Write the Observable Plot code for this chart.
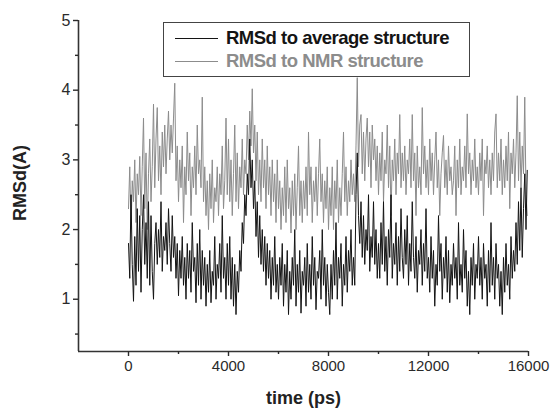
<!DOCTYPE html>
<html>
<head>
<meta charset="utf-8">
<script src="https://cdn.jsdelivr.net/npm/d3@7"></script>
<script src="https://cdn.jsdelivr.net/npm/@observablehq/plot@0.6"></script>
<style>
  html, body { margin: 0; padding: 0; background: #fff; }
  #wrap { position: relative; width: 553px; height: 408px; font-family: "Liberation Sans", Arial, sans-serif; }
  #legend { position: absolute; left: 163px; top: 22px; width: 305px; height: 53px; border: 1.5px solid #444; background: #fff; }
  .item { position: absolute; left: 11px; display: flex; align-items: center; font-size: 18.5px; font-weight: bold; letter-spacing: -0.5px; white-space: nowrap; line-height: 20px; }
  .swatch { width: 43px; height: 0; border-top: 1.3px solid; margin-right: 8px; }
</style>
</head>
<body>
<div id="wrap"></div>
<script>
// trajectory sampling (ps): one sample every 50 ps
const timeStep = 50;
const timeStart = 0;

// RMSd to NMR structure (gray)
const rmsdNMR = [
  2.3, 2.9, 2.0, 2.7, 2.4, 3.0, 2.1, 2.8, 2.5, 3.05, 2.2, 2.9, 3.6, 2.3, 3.1, 2.0, 2.8, 3.3, 2.4, 2.9,
  3.8, 2.6, 3.3, 3.75, 2.7, 3.2, 2.5, 3.4, 2.9, 3.5, 2.8, 3.3, 3.7, 3.0, 3.5, 3.1, 3.6, 4.1, 2.7, 3.2,
  2.4, 3.0, 2.6, 3.2, 2.1, 2.9, 2.5, 3.4, 2.7, 3.1, 2.2, 2.9, 2.6, 3.2, 2.5, 3.5, 2.8, 3.0, 2.6, 3.9,
  2.4, 2.9, 2.2, 2.7, 2.0, 2.8, 2.3, 3.0, 2.1, 2.6, 2.4, 2.9, 2.2, 2.8, 2.5, 3.2, 2.3, 2.7, 3.6, 2.5,
  3.3, 2.4, 3.0, 2.2, 2.8, 3.5, 2.4, 3.1, 2.3, 2.9, 2.6, 3.3, 2.5, 3.0, 2.8, 3.5, 3.0, 3.7, 3.2, 4.02,
  3.1, 3.5, 2.7, 3.4, 2.5, 3.0, 2.4, 3.3, 2.6, 3.0, 2.3, 3.2, 2.5, 2.9, 2.2, 3.0, 2.4, 2.8, 2.1, 3.0,
  2.3, 2.7, 2.0, 2.6, 2.2, 2.9, 2.1, 3.0, 2.3, 2.6, 1.95, 2.7, 2.2, 2.8, 2.0, 2.6, 3.2, 2.2, 2.7, 2.1,
  2.7, 2.3, 2.9, 2.2, 3.4, 2.5, 2.9, 2.1, 2.7, 2.4, 2.9, 2.2, 2.8, 3.3, 2.4, 2.8, 2.1, 2.7, 2.3, 2.9,
  2.0, 2.6, 2.2, 2.9, 2.0, 2.7, 2.3, 3.0, 2.1, 2.6, 2.2, 2.8, 3.4, 2.4, 2.9, 2.2, 2.7, 2.4, 3.0, 2.5,
  2.8, 2.4, 3.2, 4.18, 2.9, 3.5, 3.65, 2.8, 3.4, 2.7, 3.3, 3.6, 2.9, 3.4, 2.6, 3.5, 3.0, 3.3, 2.7, 3.2,
  2.5, 3.1, 2.7, 3.4, 2.4, 3.0, 2.8, 3.5, 2.6, 3.2, 2.2, 3.0, 2.7, 3.3, 2.5, 3.1, 2.8, 3.65, 2.6, 3.1,
  2.7, 3.2, 2.5, 3.0, 2.8, 3.3, 2.6, 3.65, 2.7, 3.1, 2.2, 3.2, 2.6, 2.9, 2.5, 3.75, 2.8, 3.2, 2.6, 3.0,
  2.5, 3.3, 2.7, 3.1, 2.5, 3.0, 3.4, 2.6, 3.0, 2.2, 2.8, 3.1, 3.35, 2.6, 3.0, 2.5, 3.2, 2.7, 2.9, 2.5,
  2.7, 3.2, 2.2, 3.0, 2.6, 3.3, 2.5, 2.9, 2.7, 3.2, 2.6, 3.66, 2.8, 3.1, 2.5, 3.0, 2.7, 3.3, 2.6, 2.9,
  2.5, 3.1, 2.7, 3.3, 2.2, 3.0, 2.8, 3.2, 2.6, 3.0, 2.5, 3.1, 2.7, 3.4, 3.66, 2.6, 3.1, 2.7, 3.3, 2.5,
  3.0, 2.6, 3.2, 2.7, 3.4, 2.3, 3.1, 2.8, 3.3, 2.6, 3.1, 3.92, 2.7, 3.4, 2.6, 3.2, 2.8, 3.9, 2.5, 2.2
];

// RMSd to average structure (black)
const rmsdAvg = [
  1.8, 1.3, 2.5, 1.5, 0.97, 1.9, 1.2, 2.3, 1.4, 2.2, 1.1, 2.0, 2.5, 1.5, 2.1, 1.3, 2.4, 1.2, 2.2, 1.4,
  1.0, 1.8, 2.1, 1.5, 2.0, 1.6, 2.4, 1.4, 1.9, 1.7, 2.1, 1.5, 2.3, 1.8, 1.4, 2.2, 1.6, 1.9, 1.3, 1.8,
  1.05, 1.7, 1.3, 1.9, 1.2, 1.6, 1.0, 1.8, 1.3, 1.7, 1.1, 2.1, 1.4, 1.6, 0.95, 1.8, 1.2, 2.0, 1.0, 1.7,
  1.2, 1.6, 0.9, 1.5, 1.1, 1.7, 0.95, 1.4, 1.2, 1.9, 1.0, 1.5, 1.3, 1.8, 1.1, 2.2, 1.3, 1.6, 1.0, 1.8,
  1.2, 1.9, 1.0, 1.6, 0.9, 1.5, 0.78, 1.4, 1.1, 1.7, 1.4, 2.1, 1.8, 2.5, 2.2, 2.8, 2.5, 3.3, 2.6, 3.0,
  2.3, 2.7, 1.9, 2.4, 1.6, 2.2, 1.5, 2.0, 1.4, 1.9, 1.2, 1.8, 1.3, 1.7, 1.0, 1.6, 1.2, 1.9, 1.1, 1.5,
  1.0, 1.6, 1.2, 1.8, 0.9, 1.5, 1.1, 1.7, 0.78, 1.4, 1.0, 1.6, 1.2, 2.0, 0.9, 1.5, 1.1, 1.7, 0.8, 1.4,
  1.2, 1.6, 0.9, 1.8, 1.1, 1.5, 1.0, 1.9, 1.2, 1.6, 0.85, 1.4, 1.3, 1.7, 1.0, 2.0, 1.2, 1.6, 0.9, 1.5,
  1.1, 0.78, 1.5, 1.0, 1.7, 1.2, 2.1, 1.0, 1.6, 1.3, 1.8, 0.9, 1.5, 1.2, 1.9, 1.1, 1.7, 1.4, 2.0, 1.2,
  1.6, 1.2, 2.5, 3.1, 2.2, 1.8, 2.4, 1.6, 2.2, 1.5, 2.0, 1.7, 2.5, 1.4, 1.9, 1.6, 2.4, 1.5, 2.0, 1.3,
  1.8, 1.3, 2.1, 1.5, 2.4, 1.4, 1.9, 1.2, 2.0, 1.6, 2.5, 1.3, 1.8, 1.5, 2.1, 1.2, 1.9, 1.4, 2.3, 1.6,
  1.3, 2.0, 1.5, 2.2, 1.2, 1.8, 1.4, 2.4, 1.6, 1.3, 1.9, 1.1, 1.7, 1.5, 2.0, 1.2, 1.8, 1.4, 2.3, 1.3,
  1.6, 1.1, 1.9, 1.3, 1.7, 0.9, 1.5, 1.2, 2.2, 1.4, 1.8, 1.0, 1.6, 1.3, 1.9, 1.1, 1.7, 0.95, 1.5, 1.2,
  1.8, 1.3, 1.6, 1.0, 2.1, 1.2, 1.5, 1.1, 2.0, 1.3, 1.7, 0.9, 1.4, 0.78, 1.6, 1.2, 1.8, 1.0, 1.5, 1.3,
  1.9, 1.2, 1.6, 1.0, 1.8, 1.3, 1.5, 0.9, 1.7, 1.1, 2.1, 1.2, 1.6, 1.0, 1.8, 1.3, 1.5, 0.9, 1.4, 0.78,
  1.6, 1.1, 1.8, 1.2, 1.5, 1.0, 1.9, 1.3, 1.7, 1.4, 2.1, 1.5, 2.4, 1.7, 2.6, 1.6, 2.3, 2.8, 2.0, 2.85
];

const xMajorTicks = [0, 4000, 8000, 12000, 16000];
const xMinorTicks = [2000, 6000, 10000, 14000];
const yMajorTicks = [1, 2, 3, 4, 5];
const yMinorTicks = [0.5, 1.5, 2.5, 3.5, 4.5];
const seriesNames = ["RMSd to average structure", "RMSd to NMR structure"];
const seriesColors = ["#141414", "#8c8c8c"];
const xLabel = "time (ps)";
const yLabel = "RMSd(A)";

const nmrData = rmsdNMR.map((v, i) => ({t: timeStart + i * timeStep, v}));
const avgData = rmsdAvg.map((v, i) => ({t: timeStart + i * timeStep, v}));

const xDomain = [-2000, 16000];
const yDomain = [0.25, 5];

const chart = Plot.plot({
  width: 553,
  height: 408,
  marginLeft: 78,
  marginTop: 20,
  marginRight: 25,
  marginBottom: 57,
  x: {domain: xDomain},
  y: {domain: yDomain},
  style: {fontFamily: "'Liberation Sans', Arial, sans-serif", color: "#2a2a2a", background: "#fff"},
  marks: [
    Plot.line(nmrData, {x: "t", y: "v", stroke: seriesColors[1], strokeWidth: 1}),
    Plot.line(avgData, {x: "t", y: "v", stroke: seriesColors[0], strokeWidth: 1}),
    Plot.ruleX([xDomain[0]], {stroke: "#333", strokeWidth: 1.6}),
    Plot.ruleY([yDomain[0]], {stroke: "#333", strokeWidth: 1.6}),
    Plot.axisY({ticks: yMajorTicks, tickSize: 5, tickPadding: 3, tickFormat: d3.format("d"), fontSize: 16, label: null, strokeWidth: 1.4}),
    Plot.axisY({ticks: yMinorTicks, tickSize: 3, tickFormat: () => "", label: null, strokeWidth: 1.4}),
    Plot.axisX({ticks: xMajorTicks, tickSize: 5, tickPadding: 4, tickFormat: d3.format("d"), fontSize: 15, label: null, strokeWidth: 1.4}),
    Plot.axisX({ticks: xMinorTicks, tickSize: 3, tickFormat: () => "", label: null, strokeWidth: 1.4}),
    Plot.text([yLabel], {frameAnchor: "left", textAnchor: "middle", lineAnchor: "middle", rotate: -90, dx: -58, dy: -3, fontWeight: "bold", fontSize: 18, fill: "#222"}),
    Plot.text([xLabel], {frameAnchor: "bottom", textAnchor: "middle", lineAnchor: "middle", dy: 47, fontWeight: "bold", fontSize: 18, fill: "#222"})
  ]
});

const wrap = document.getElementById("wrap");
wrap.appendChild(chart);

const legend = document.createElement("div");
legend.id = "legend";
seriesNames.forEach((name, i) => {
  const item = document.createElement("div");
  item.className = "item";
  item.style.top = (i === 0 ? 5 : 28) + "px";
  item.style.color = seriesColors[i];
  const sw = document.createElement("span");
  sw.className = "swatch";
  sw.style.borderTopColor = seriesColors[i];
  item.appendChild(sw);
  const label = document.createElement("span");
  label.textContent = name;
  item.appendChild(label);
  legend.appendChild(item);
});
wrap.appendChild(legend);
</script>
</body>
</html>
